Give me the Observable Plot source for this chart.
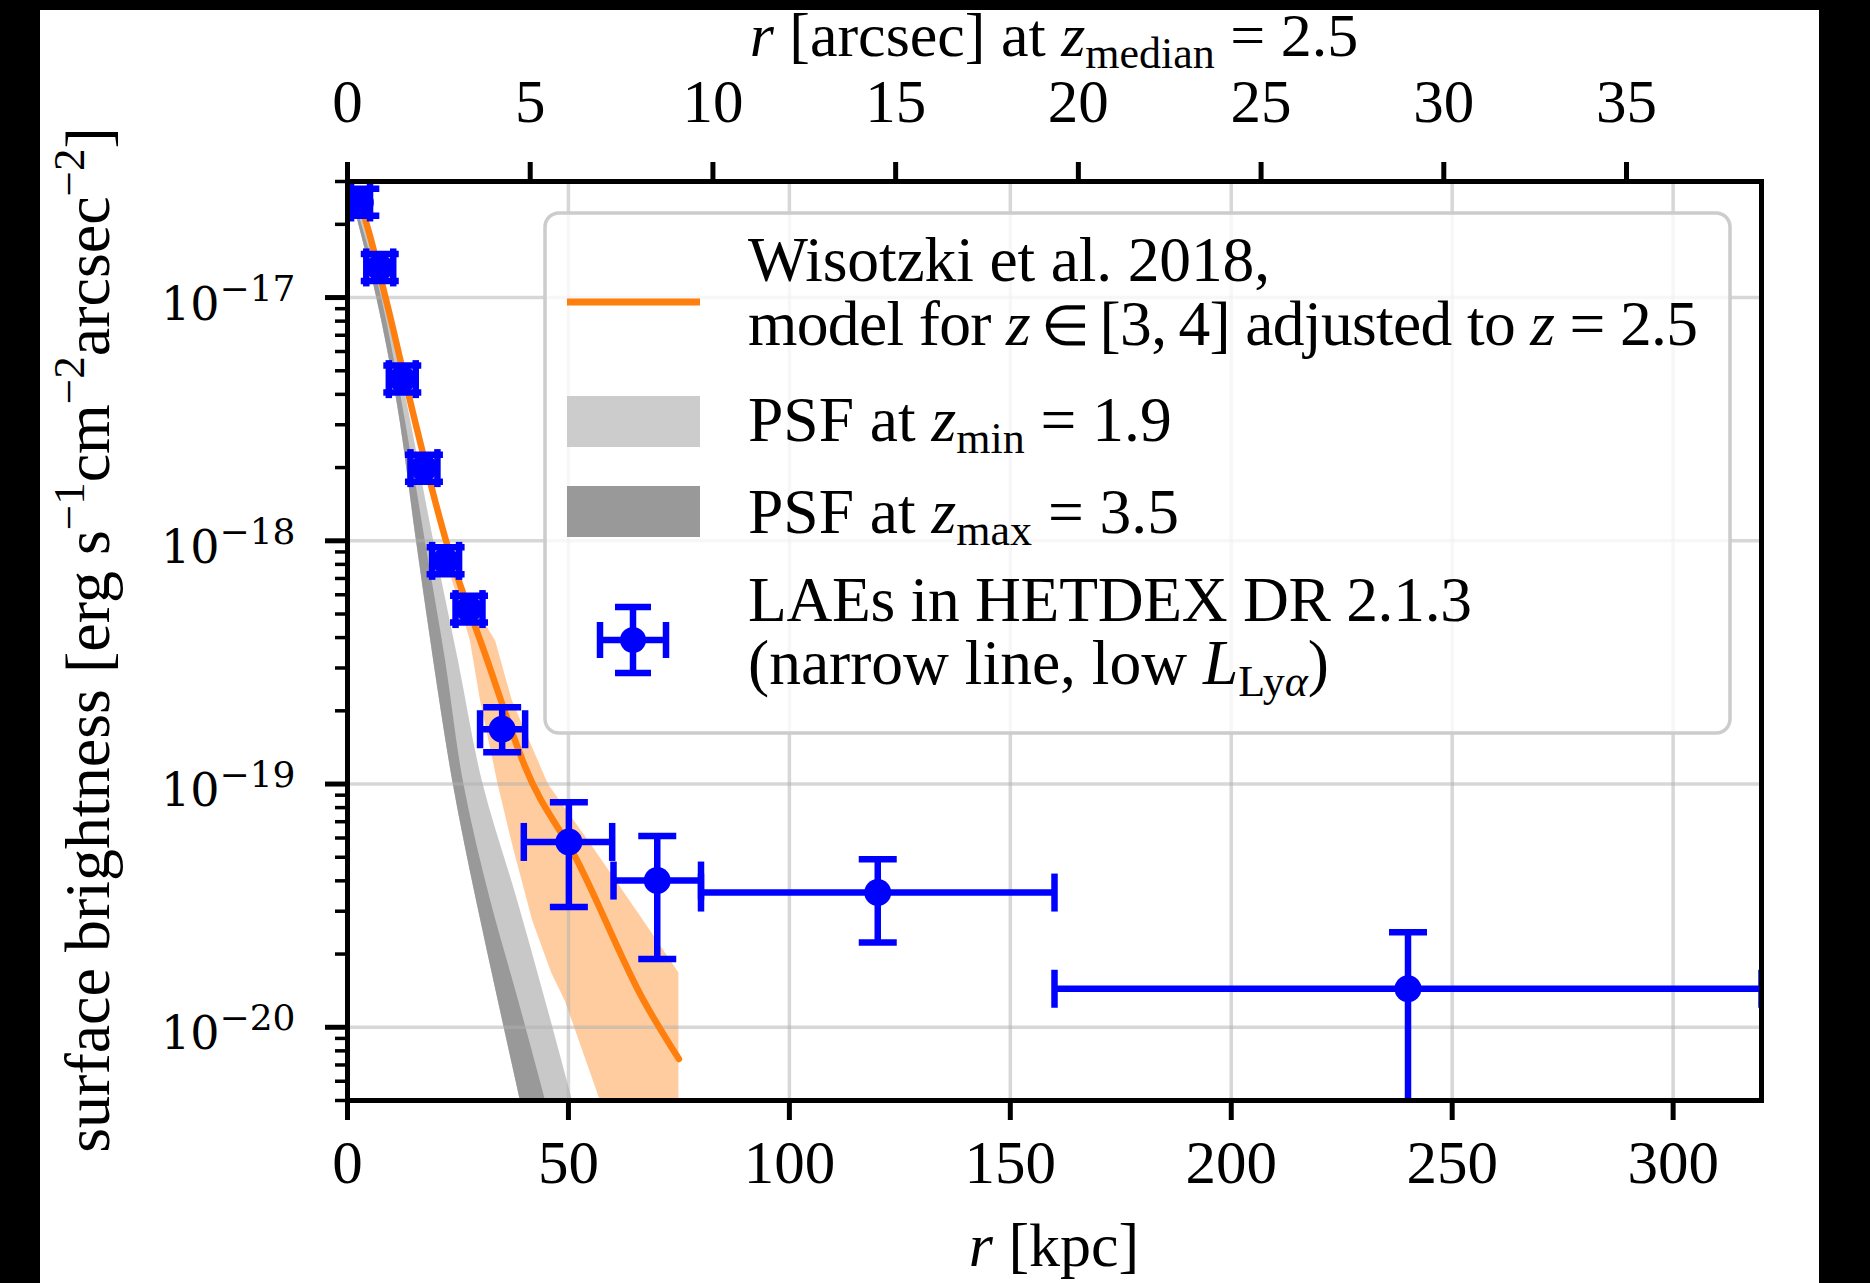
<!DOCTYPE html>
<html><head><meta charset="utf-8">
<script src="https://cdn.jsdelivr.net/npm/d3@7"></script>
<script src="https://cdn.jsdelivr.net/npm/@observablehq/plot@0.6"></script>
<style>
html,body{margin:0;padding:0;background:#000;}
#wrap{position:relative;width:1870px;height:1283px;overflow:hidden;background:#000;}
#paper{position:absolute;left:40px;top:10px;width:1779px;height:1273px;background:#fff;}
#chart{position:absolute;left:0;top:0;}
</style></head><body>
<div id="wrap"><div id="paper"></div><div id="chart"></div></div>
<script>
// ---- data ----
// LAE stack (HETDEX DR 2.1.3): radius [kpc], x-errors, surface brightness, y-errors
const rKpc = [2.9, 7.3, 12.4, 17.3, 22.2, 27.5, 35.0, 50.1, 70.1, 120, 240];
const rLo  = [0.8, 4.25, 9.35, 14.25, 19.15, 24.45, 30.0, 39.9, 60.2, 80, 160];
const rHi  = [5.1, 10.35, 15.45, 20.35, 25.25, 30.55, 40.2, 59.9, 80.0, 160, 320];
const sb   = [2.46e-17, 1.33e-17, 4.62e-18, 1.99e-18, 8.27e-19, 5.24e-19, 1.68e-19, 5.78e-20, 4.01e-20, 3.58e-20, 1.44e-20];
const sbLo = [2.17e-17, 1.17e-17, 4.07e-18, 1.75e-18, 7.28e-19, 4.61e-19, 1.35e-19, 3.12e-20, 1.91e-20, 2.23e-20, 1e-22];
const sbHi = [2.80e-17, 1.51e-17, 5.25e-18, 2.26e-18, 9.40e-19, 5.95e-19, 2.07e-19, 8.42e-20, 6.12e-20, 4.91e-20, 2.46e-20];

// Wisotzki et al. 2018 model
const modelR  = [0, 2.9, 8.6, 13.8, 22.3, 31.7, 36.9, 40.0, 52, 67, 75];
const modelSB = [3.0e-17, 2.4e-17, 1.0e-17, 4.0e-18, 1.0e-18, 3.2e-19, 1.7e-19, 1.2e-19, 4.84e-20, 1.29e-20, 7.4e-21];
// model uncertainty band (edges given per surface-brightness level)
const bandSB = [8.28e-19, 3.88e-19, 2.20e-19, 9.93e-20, 5.68e-20, 2.74e-20, 1.67e-20, 1.28e-20, 5e-21];
const bandLo = [22.4, 27.8, 30.1, 34.1, 37.3, 41.9, 46.2, 49.3, 57.2];
const bandHi = [22.4, 33.5, 37.3, 45.5, 55.0, 67.0, 75.0, 75.0, 75.0];

// PSF bands (edges per surface-brightness level)
const psfSB    = [3.0e-17, 1.0e-17, 4.02e-18, 1.0e-18, 3.21e-19, 1.03e-19, 3.31e-20, 1.29e-20, 5.0e-21];
const psfMaxLo = [0, 6.6, 10.9, 15.6, 19.5, 23.8, 29.2, 34.1, 39.1];   // z_max = 3.5
const psfMaxHi = [0.3, 7.7, 12.0, 17.6, 22.2, 26.2, 32.4, 38.7, 44.8];
const psfMinHi = [0.5, 8.6, 13.1, 19.5, 25.1, 30.5, 38.5, 44.8, 50.9]; // z_min = 1.9

// axes
const kpcTicks = [0, 50, 100, 150, 200, 250, 300];
const arcsecTicks = [0, 5, 10, 15, 20, 25, 30, 35];
const kpcPerArcsec = 8.27;
const yDecades = [1e-20, 1e-19, 1e-18, 1e-17];
const yExpLabels = ["\u221220", "\u221219", "\u221218", "\u221217"];
const yMinor = [];
for (let e = -21; e <= -17; e++) for (let m = 2; m <= 9; m++) { const v = m * Math.pow(10, e); if (v >= 5e-21 && v <= 3.01e-17) yMinor.push(v); }

// ---- tables ----
const pts = rKpc.map((r, i) => ({r, rlo: rLo[i], rhi: rHi[i], v: sb[i], vlo: sbLo[i], vhi: sbHi[i]}));
const model = modelR.map((r, i) => ({r, v: modelSB[i]}));
const band = bandSB.map((v, i) => ({v, lo: bandLo[i], hi: bandHi[i]}));
const psf = psfSB.map((v, i) => ({v, dlo: psfMaxLo[i], dhi: psfMaxHi[i], lhi: psfMinHi[i]}));

const blue = "#0000ff", orange = "#ff7f0e";
const capV = {draw(ctx, size) { const h = Math.sqrt(size / Math.PI); ctx.moveTo(0, -h); ctx.lineTo(0, h); }};
const capH = {draw(ctx, size) { const h = Math.sqrt(size / Math.PI); ctx.moveTo(-h, 0); ctx.lineTo(h, 0); }};
const gridStyle = {stroke: "#b0b0b0", strokeOpacity: 0.5, strokeWidth: 3.5};
const ew = 6.5;

const chart = Plot.plot({
  width: 1870, height: 1283,
  marginLeft: 347, marginRight: 109, marginTop: 181, marginBottom: 183,
  style: {background: "transparent", fontFamily: "Liberation Serif", fontSize: "61px", color: "black", overflow: "visible"},
  x: {domain: [0, 320]},
  y: {type: "log", domain: [5e-21, 3e-17]},
  marks: [
    Plot.areaX(psf, {y: "v", x1: "dlo", x2: "lhi", fill: "#c8c8c8", curve: "monotone-y", clip: true}),
    Plot.areaX(psf, {y: "v", x1: "dlo", x2: "dhi", fill: "#999999", curve: "monotone-y", clip: true}),
    Plot.areaX(band, {y: "v", x1: "lo", x2: "hi", fill: orange, fillOpacity: 0.4, clip: true}),
    Plot.gridX(kpcTicks.slice(1), gridStyle),
    Plot.gridY(yDecades, gridStyle),
    Plot.line(model, {x: "r", y: "v", stroke: orange, strokeWidth: 6.5, curve: "monotone-x", clip: true}),
    Plot.ruleY(pts, {y: "v", x1: "rlo", x2: "rhi", stroke: blue, strokeWidth: ew, clip: true}),
    Plot.ruleX(pts, {x: "r", y1: "vlo", y2: "vhi", stroke: blue, strokeWidth: ew, clip: true}),
    Plot.dot(pts, {x: "rlo", y: "v", symbol: capV, r: 19, stroke: blue, strokeWidth: ew, fill: "none", clip: true}),
    Plot.dot(pts, {x: "rhi", y: "v", symbol: capV, r: 19, stroke: blue, strokeWidth: ew, fill: "none", clip: true}),
    Plot.dot(pts, {x: "r", y: "vlo", symbol: capH, r: 19, stroke: blue, strokeWidth: ew, fill: "none", clip: true}),
    Plot.dot(pts, {x: "r", y: "vhi", symbol: capH, r: 19, stroke: blue, strokeWidth: ew, fill: "none", clip: true}),
    Plot.dot(pts, {x: "r", y: "v", r: 13.5, fill: blue, stroke: "none"}),
    Plot.frame({stroke: "black", strokeWidth: 5}),
    Plot.axisX(kpcTicks, {anchor: "bottom", tickSize: 20, tickPadding: 19, strokeWidth: 5, label: null}),
    Plot.axisX(arcsecTicks.map(a => a * kpcPerArcsec), {anchor: "top", tickSize: 20, tickPadding: 40, strokeWidth: 5, label: null,
      tickFormat: d => String(Math.round(d / kpcPerArcsec))}),
    Plot.axisY(yDecades, {anchor: "left", tickSize: 22, strokeWidth: 5, tickFormat: () => "", label: null}),
    Plot.axisY(yMinor, {anchor: "left", tickSize: 12, strokeWidth: 3.5, tickFormat: () => "", label: null}),
    Plot.text(yDecades, {y: d => d, text: () => "10", frameAnchor: "left", textAnchor: "end", lineAnchor: "bottom",
      dx: -128, dy: 22, fontFamily: "DejaVu Serif", fontSize: 46}),
    Plot.text(yDecades, {y: d => d, text: (d, i) => yExpLabels[i], frameAnchor: "left", textAnchor: "start", lineAnchor: "bottom",
      dx: -128, dy: 3, fontFamily: "DejaVu Serif", fontSize: 36})
  ]
});
document.getElementById("chart").appendChild(chart);

// ---- labels and legend ----
const svg = d3.select(chart);
function rich(sel, x, y, parts, opts = {}) {
  const t = sel.append("text").attr("x", x).attr("y", y).attr("text-anchor", opts.anchor || "start");
  if (opts.transform) t.attr("transform", opts.transform);
  if (opts.len) t.attr("textLength", opts.len).attr("lengthAdjust", "spacing");
  let off = 0;
  for (const p of parts) {
    const ts = t.append("tspan").text(p.t);
    const target = p.sub ? p.sub : p.sup ? -p.sup : 0;
    if (target !== off) { ts.attr("dy", target - off); off = target; }
    if (p.i) ts.attr("font-style", "italic");
    if (p.fs) ts.attr("font-size", p.fs);
  }
  return t;
}
const lab = svg.append("g").attr("font-family", "Liberation Serif").attr("font-size", 62).attr("fill", "black");
rich(lab, 1054, 56, [{t: "r", i: 1}, {t: " [arcsec] at "}, {t: "z", i: 1}, {t: "median", sub: 12, fs: 44}, {t: " = 2.5"}], {anchor: "middle"});
rich(lab, 1054, 1266, [{t: "r", i: 1}, {t: " [kpc]"}], {anchor: "middle"});
const ylab = lab.append("g").attr("font-size", 64);
rich(ylab, 0, 0, [{t: "surface brightness [erg s"}, {t: "\u22121", sup: 25, fs: 45}, {t: "cm"}, {t: "\u22122", sup: 25, fs: 45},
  {t: "arcsec"}, {t: "\u22122", sup: 25, fs: 45}, {t: "]"}], {anchor: "middle", transform: "translate(109,640) rotate(-90)"});

const leg = svg.append("g").attr("font-family", "Liberation Serif").attr("font-size", 63.5).attr("fill", "black");
leg.append("rect").attr("x", 545).attr("y", 213).attr("width", 1185).attr("height", 520).attr("rx", 14)
  .attr("fill", "white").attr("fill-opacity", 0.8).attr("stroke", "#cccccc").attr("stroke-width", 3.5);
leg.append("line").attr("x1", 567).attr("x2", 700).attr("y1", 302).attr("y2", 302).attr("stroke", orange).attr("stroke-width", 7);
leg.append("rect").attr("x", 567).attr("y", 396).attr("width", 133).attr("height", 51).attr("fill", "#cccccc");
leg.append("rect").attr("x", 567).attr("y", 486).attr("width", 133).attr("height", 51).attr("fill", "#999999");
const ex = 633, ey = 640;
const eg = leg.append("g").attr("stroke", blue).attr("stroke-width", ew);
eg.append("line").attr("x1", ex - 33).attr("x2", ex + 33).attr("y1", ey).attr("y2", ey);
eg.append("line").attr("x1", ex).attr("x2", ex).attr("y1", ey - 33).attr("y2", ey + 33);
eg.append("line").attr("x1", ex - 33).attr("x2", ex - 33).attr("y1", ey - 18).attr("y2", ey + 18);
eg.append("line").attr("x1", ex + 33).attr("x2", ex + 33).attr("y1", ey - 18).attr("y2", ey + 18);
eg.append("line").attr("x1", ex - 18).attr("x2", ex + 18).attr("y1", ey - 33).attr("y2", ey - 33);
eg.append("line").attr("x1", ex - 18).attr("x2", ex + 18).attr("y1", ey + 33).attr("y2", ey + 33);
leg.append("circle").attr("cx", ex).attr("cy", ey).attr("r", 13).attr("fill", blue);

const tx = 748;
rich(leg, tx, 281, [{t: "Wisotzki et al. 2018,"}], {len: 522});
rich(leg, tx, 345, [{t: "model for "}, {t: "z", i: 1}, {t: "\u2009\u2208\u2009", fs: 56}, {t: "[3,\u20094] adjusted to "}, {t: "z", i: 1}, {t: " = 2.5"}], {len: 950});
rich(leg, tx, 441, [{t: "PSF at "}, {t: "z", i: 1}, {t: "min", sub: 12, fs: 44}, {t: " = 1.9"}]);
rich(leg, tx, 533, [{t: "PSF at "}, {t: "z", i: 1}, {t: "max", sub: 12, fs: 44}, {t: " = 3.5"}]);
rich(leg, tx, 621, [{t: "LAEs in HETDEX DR 2.1.3"}], {len: 724});
rich(leg, tx, 684, [{t: "(narrow line, low "}, {t: "L", i: 1}, {t: "Ly", sub: 12, fs: 44}, {t: "\u03b1", sub: 12, fs: 44, i: 1}, {t: ")"}]);
</script>
</body></html>
